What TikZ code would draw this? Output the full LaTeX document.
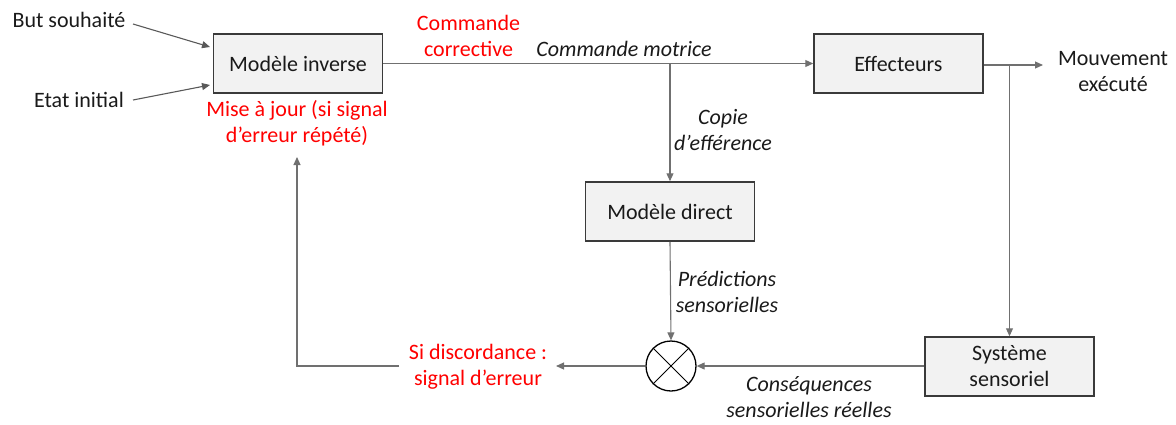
\documentclass[tikz,border=0pt]{standalone}
\usepackage{fontspec}
\setmainfont{Carlito}
\usetikzlibrary{arrows.meta,calc}
\definecolor{txt}{HTML}{1A1A1A}
\definecolor{boxfill}{HTML}{F2F2F2}
\definecolor{boxline}{HTML}{3A3A3A}
\definecolor{conn}{HTML}{707070}
\begin{document}
\begin{tikzpicture}[x=1pt,y=-1pt,
  every node/.style={font=\fontsize{22}{26}\selectfont, text=txt, inner sep=0pt, align=center},
  blockbox/.style={draw=boxline, fill=boxfill, line width=1.5pt, minimum width=169pt, minimum height=59pt},
  redtxt/.style={text=red},
  itxt/.style={font=\fontsize{22}{26}\selectfont\itshape},
  conline/.style={draw=conn, line width=1.1pt},
  arr/.style={conline, -{Triangle[length=8pt,width=7pt]}, shorten >=0pt}
]
\useasboundingbox (0,0) rectangle (1176,424);

% blocks
\node[blockbox] (inv) at (298,63.5) {Modèle inverse};
\node[blockbox] (eff) at (898.5,63.5) {Effecteurs};
\node[blockbox] (dir) at (670,211.5) {Modèle direct};
\node[blockbox] (sys) at (1009.5,366.5) {Système\\sensoriel};
\node[draw=black, line width=1.3pt, circle, minimum size=50pt] (cmp) at (671,366) {};
\draw[black, line width=0.9pt] (cmp.45) -- (cmp.225) (cmp.135) -- (cmp.315);

% plain texts
\node (but) at (69,20) {But souhaité};
\node (etat) at (79,100) {Etat initial};
\node (mouv) at (1113,71.5) {Mouvement\\exécuté};
\node[redtxt] (corr) at (468.5,36) {Commande\\corrective};
\node[itxt] (motr) at (624,49) {Commande motrice};
\node[redtxt] (maj) at (297,123) {Mise à jour (si signal\\d’erreur répété)};
\node[itxt] (copie) at (723,130.5) {Copie\\d’efférence};
\node[itxt] (pred) at (727,291.5) {Prédictions\\sensorielles};
\node[redtxt] (disc) at (478,367) {Si discordance :\\signal d’erreur};
\node[itxt] (cons) at (809,397) {Conséquences\\sensorielles réelles};

% coordinates
\coordinate (butend) at (133,24);
\coordinate (buttip) at (210,47);
\coordinate (etatend) at (133,100);
\coordinate (etattip) at (210,85);
\coordinate (split) at (dir.north |- inv.east);
\coordinate (mvtip) at (1043,65);
\coordinate (split2) at (sys.north |- mvtip);
\coordinate (errtip) at (556,366);
\coordinate (fbstart) at (399,366);
\coordinate (fbcorner) at (297,366);
\coordinate (fbtip) at (297,157);

% connectors
\draw[arr, draw=black!65] (butend) -- (buttip);
\draw[arr, draw=black!65] (etatend) -- (etattip);
\draw[arr] (inv.east) -- (eff.west);
\draw[arr] (split) -- (dir.north);
\draw[arr] (eff.east |- mvtip) -- (mvtip);
\draw[arr] (split2) -- (sys.north);
\draw[arr] (dir.south) -- (cmp.north);
\draw[arr] (sys.west |- cmp.east) -- (cmp.east);
\draw[arr] (cmp.west) -- (errtip);
\draw[arr] (fbstart) -- (fbcorner) -- (fbtip);
\end{tikzpicture}
\end{document}
